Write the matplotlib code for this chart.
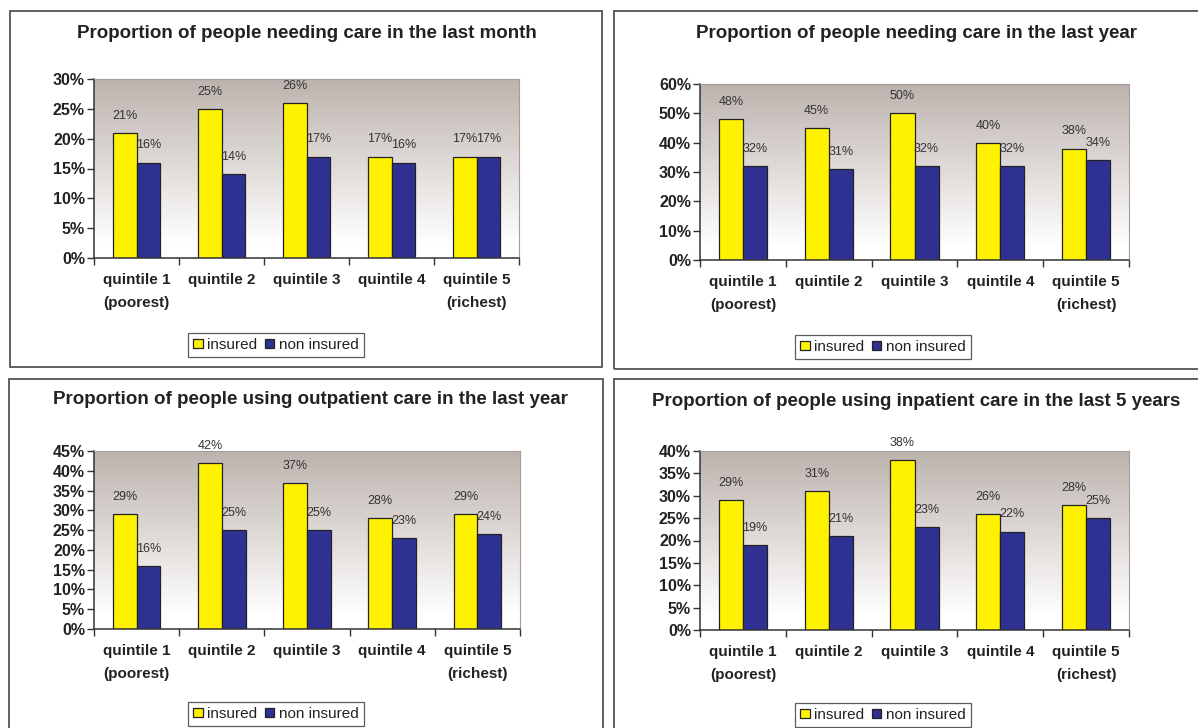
import numpy as np
import matplotlib
matplotlib.use("Agg")
import matplotlib.pyplot as plt
from matplotlib.patches import Rectangle
from matplotlib.ticker import PercentFormatter, MultipleLocator

plt.rcParams['font.family'] = ['Liberation Sans', 'DejaVu Sans']

quintiles = ["quintile 1\n(poorest)", "quintile 2", "quintile 3", "quintile 4", "quintile 5\n(richest)"]

titles = ["Proportion of people needing care in the last month",
          "Proportion of people needing care in the last year",
          "Proportion of people using outpatient care in the last year",
          "Proportion of people using inpatient care in the last 5 years"]

month_insured = [21, 25, 26, 17, 17]
month_non = [16, 14, 17, 16, 17]
year_insured = [48, 45, 50, 40, 38]
year_non = [32, 31, 32, 32, 34]
outpat_insured = [29, 42, 37, 28, 29]
outpat_non = [16, 25, 25, 23, 24]
inpat_insured = [29, 31, 38, 26, 28]
inpat_non = [19, 21, 23, 22, 25]

ymax = [30, 60, 45, 40]
ystep = [5, 10, 5, 5]

W, H = 1198, 728
YELLOW = '#fff200'
NAVY = '#2e3192'

fig = plt.figure(figsize=(W / 100, H / 100), dpi=100)
fig.patch.set_facecolor('white')


def px_rect(l, t, r, b):
    return [l / W, 1 - b / H, (r - l) / W, (b - t) / H]


# panel frames (left, top, right, bottom) in pixels
frames = [(10, 11, 602, 367), (614, 11, 1200, 369), (9, 379, 603, 731), (614, 379, 1200, 731)]
for l, t, r, b in frames:
    fig.patches.append(Rectangle((l / W, 1 - b / H), (r - l) / W, (b - t) / H,
                                 transform=fig.transFigure, fill=False,
                                 edgecolor='#555555', linewidth=1.3))

axes_px = [(94, 79, 519, 258), (700, 84, 1129, 260), (94, 451, 520, 629), (700, 451, 1129, 630)]
title_px = [(307, 33), (916, 33), (310, 399), (916, 401)]
legend_px = [(276, 345), (883, 347), (276, 714), (883, 715)]

series = [(month_insured, month_non), (year_insured, year_non),
          (outpat_insured, outpat_non), (inpat_insured, inpat_non)]

# vertical gradient for the plot area: greyish top fading to white
top = np.array([0.74, 0.70, 0.68])
grad = np.linspace(0, 1, 256)
frac = np.clip((grad - 0.08) / 0.92, 0, 1)[:, None]
grad_img = (1 - frac) * np.ones(3) + frac * top
grad_img = grad_img[:, None, :]

x = np.arange(len(quintiles))
bw = 0.28

for i in range(4):
    ax = fig.add_axes(px_rect(*axes_px[i]))
    ins, non = series[i]
    ax.imshow(grad_img, extent=[-0.5, 4.5, 0, ymax[i]], aspect='auto',
              origin='lower', zorder=0)
    b1 = ax.bar(x - bw, ins, width=bw, align='edge', color=YELLOW,
                edgecolor='#222222', linewidth=0.9, zorder=2, label='insured')
    b2 = ax.bar(x, non, width=bw, align='edge', color=NAVY,
                edgecolor='#222222', linewidth=0.9, zorder=2, label='non insured')
    for bars, vals in ((b1, ins), (b2, non)):
        for rect, v in zip(bars, vals):
            ax.annotate(f"{v}%", (rect.get_x() + rect.get_width() / 2, v),
                        xytext=(0, 8), textcoords='offset points',
                        ha='center', va='bottom', fontsize=9, color='#333333',
                        annotation_clip=False)
    ax.set_xlim(-0.5, 4.5)
    ax.set_ylim(0, ymax[i])
    ax.yaxis.set_major_locator(MultipleLocator(ystep[i]))
    ax.yaxis.set_major_formatter(PercentFormatter(decimals=0))
    ax.set_xticks(x)
    ax.set_xticklabels(quintiles, fontsize=11, fontweight='bold', linespacing=1.75,
                       color='#222222')
    ax.set_xticks(np.arange(-0.5, 5, 1), minor=True)
    ax.tick_params(axis='x', which='major', length=0, pad=11)
    ax.tick_params(axis='x', which='minor', length=5, width=1, color='#333333', direction='out')
    ax.tick_params(axis='y', length=5, width=1, color='#333333', direction='out', pad=1.5,
                   labelsize=11.5)
    for lab in ax.get_yticklabels():
        lab.set_fontweight('bold')
        lab.set_color('#222222')
    ax.spines['left'].set_color('#333333')
    ax.spines['bottom'].set_color('#333333')
    ax.spines['left'].set_linewidth(1.1)
    ax.spines['bottom'].set_linewidth(1.1)
    ax.spines['top'].set_color('#a49c99')
    ax.spines['right'].set_color('#a49c99')

    tx, ty = title_px[i]
    fig.text(tx / W, 1 - ty / H, titles[i], ha='center', va='center',
             fontsize=13.5, fontweight='bold', color='#222222')

    lx, ly = legend_px[i]
    leg = fig.legend(handles=[b1, b2], loc='center', bbox_to_anchor=(lx / W, 1 - ly / H),
                     ncol=2, fontsize=11, frameon=True, fancybox=False,
                     handlelength=0.6, handleheight=0.6, handletextpad=0.3,
                     columnspacing=0.5, borderpad=0.35, labelcolor='#222222')
    leg.get_frame().set_edgecolor('#333333')
    leg.get_frame().set_linewidth(0.9)

fig.savefig("out.png", dpi=100)
